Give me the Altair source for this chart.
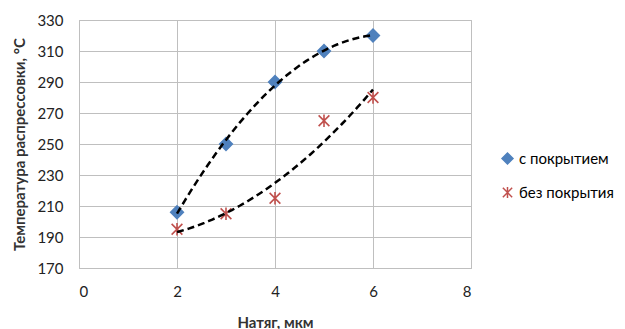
import altair as alt
import pandas as pd

x_vals = [2, 3, 4, 5, 6]
coated = [206, 250, 290, 310, 320]
uncoated = [195, 205, 215, 265, 280]
series_names = ["с покрытием", "без покрытия"]
x_ticks = [0, 2, 4, 6, 8]
y_ticks = [170, 190, 210, 230, 250, 270, 290, 310, 330]

rows = []
for name, ys in zip(series_names, [coated, uncoated]):
    for xv, yv in zip(x_vals, ys):
        rows.append({"x": xv, "y": yv, "series": name})
df = pd.DataFrame(rows)

FONT = "Lato"
star = "M-0.85,-0.85L0.85,0.85M-0.85,0.85L0.85,-0.85M0,-1L0,1"

X = alt.X("x:Q", scale=alt.Scale(domain=[0, 8], nice=False),
          axis=alt.Axis(values=x_ticks, title="Натяг, мкм"))
Y = alt.Y("y:Q", scale=alt.Scale(domain=[170, 330], nice=False, zero=False),
          axis=alt.Axis(values=y_ticks, title="Температура распрессовки, °С"))

base = alt.Chart(df)

trend = base.transform_regression(
    "x", "y", method="poly", order=2, groupby=["series"], extent=[2, 6]
).mark_line(color="black", strokeDash=[7, 4], strokeWidth=2.5).encode(
    x=X, y=Y, detail="series:N",
)

points = base.mark_point(size=160, strokeWidth=1.6, opacity=1).encode(
    x=X, y=Y,
    shape=alt.Shape("series:N", sort=series_names,
                    scale=alt.Scale(domain=series_names, range=["diamond", star]),
                    legend=alt.Legend(title=None, orient="none", legendX=421,
                                      legendY=131, symbolSize=120,
                                      rowPadding=17, labelFontSize=15,
                                      labelFont=FONT, labelColor="#000",
                                      symbolStrokeWidth=1.5)),
    fill=alt.Fill("series:N", sort=series_names,
                  scale=alt.Scale(domain=series_names, range=["#4F81BD", "transparent"])),
    stroke=alt.Stroke("series:N", sort=series_names,
                      scale=alt.Scale(domain=series_names, range=["#4F81BD", "#C0504D"])),
)

chart = alt.layer(points, trend).properties(
    width=392, height=248,
    autosize=alt.AutoSizeParams(type="none"),
    padding={"left": 71, "top": 12, "right": 146, "bottom": 61},
).configure_view(stroke="#bfbfbf", strokeWidth=1).configure_axis(
    grid=True, gridColor="#bfbfbf", gridWidth=1,
    domainColor="#bfbfbf", ticks=False, labelOverlap=False,
    labelFont=FONT, labelFontSize=15, labelColor="#222",
    titleFont=FONT, titleFontSize=15, titleFontWeight="bold", titleColor="#333",
    labelPadding=16,
).configure_axisY(titlePadding=9).configure_axisX(titlePadding=16)

chart.save("out.html", embed_options={"renderer": "svg", "actions": False})
